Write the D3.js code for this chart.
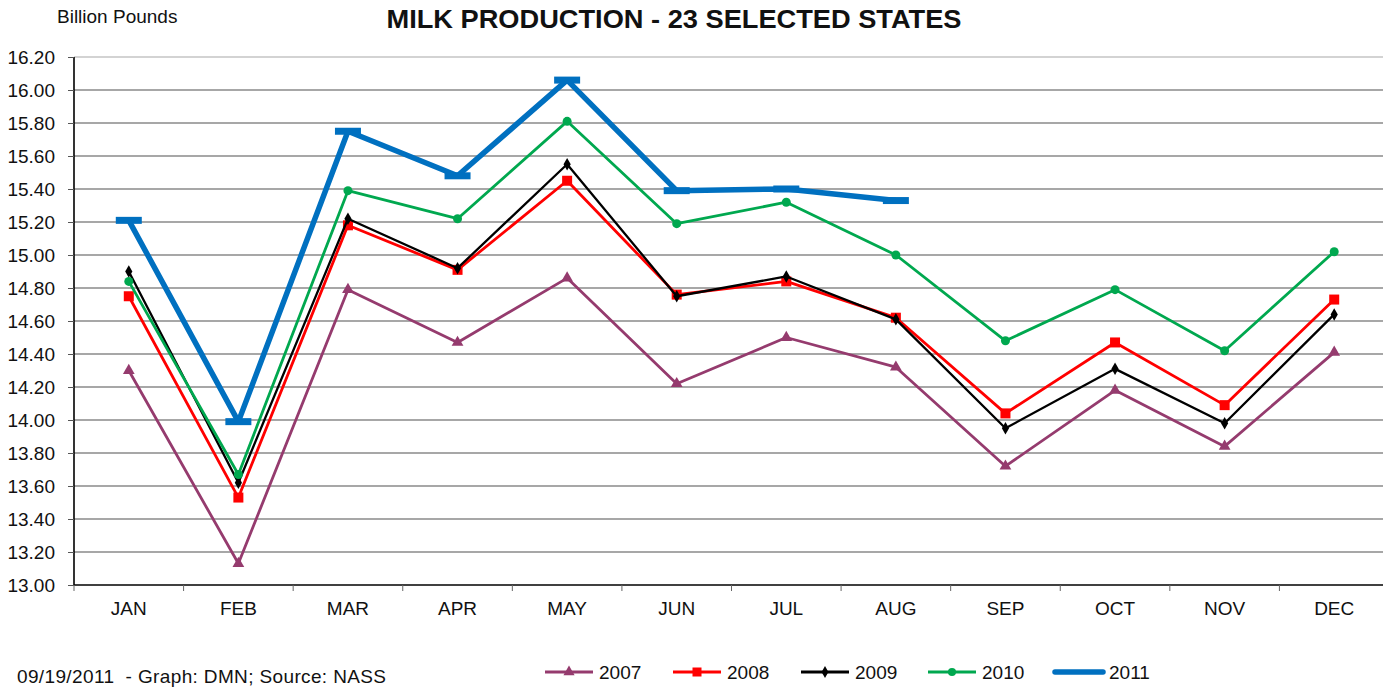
<!DOCTYPE html>
<html><head><meta charset="utf-8">
<script src="https://cdn.jsdelivr.net/npm/d3@7"></script>
<style>body{margin:0;background:#fff;}svg{display:block;font-family:"Liberation Sans",Arial,sans-serif;}</style>
</head><body>
<svg id="c" width="1383" height="691"></svg>
<script>
const months = ["JAN","FEB","MAR","APR","MAY","JUN","JUL","AUG","SEP","OCT","NOV","DEC"];
const yTicks = [13.0,13.2,13.4,13.6,13.8,14.0,14.2,14.4,14.6,14.8,15.0,15.2,15.4,15.6,15.8,16.0,16.2];
const years = ["2007","2008","2009","2010","2011"];
const v2007 = [14.30,13.13,14.79,14.47,14.86,14.22,14.50,14.32,13.72,14.18,13.84,14.41];
const v2008 = [14.75,13.53,15.18,14.91,15.45,14.76,14.84,14.62,14.04,14.47,14.09,14.73];
const v2009 = [14.90,13.62,15.22,14.92,15.55,14.75,14.87,14.61,13.95,14.31,13.98,14.64];
const v2010 = [14.84,13.67,15.39,15.22,15.81,15.19,15.32,15.00,14.48,14.79,14.42,15.02];
const v2011 = [15.21,13.99,15.75,15.48,16.06,15.39,15.40,15.33];
const colors = ["#953B6E","#FF0000","#000000","#00A84F","#0070C0"];
const markers = ["triangle","square","diamond","circle","dash"];
const widths = [2.8,2.8,2.3,2.8,5.5];

const series = years.map((y,i)=>({name:y, values:[v2007,v2008,v2009,v2010,v2011][i], color:colors[i], marker:markers[i], w:widths[i]}));

const FONT = "'Liberation Sans',Arial,sans-serif";
const svg = d3.select("#c");
const L=74, R=1389, T=57, B=585;
const x = d3.scaleBand().domain(months).range([L,R]);
const y = d3.scaleLinear().domain([13,16.2]).range([B,T]);

// gridlines
svg.append("g").selectAll("line").data(yTicks.filter(t=>t>13)).join("line")
  .attr("x1",L).attr("x2",R).attr("y1",d=>y(d)).attr("y2",d=>y(d))
  .attr("stroke",d=>d>16.1?"#c4c4c4":"#8a8a8a").attr("stroke-width",1.6);

// y axis
const ya = svg.append("g").attr("transform",`translate(${L},0)`)
  .call(d3.axisLeft(y).tickValues(yTicks).tickFormat(d3.format(".2f")).tickSize(6).tickPadding(13));
ya.select(".domain").attr("stroke","#000").attr("stroke-width",1.6).attr("d",`M0,${T}V${B}`);
ya.selectAll(".tick line").attr("stroke","#555");
ya.selectAll("text").attr("font-size",19).attr("fill","#111").attr("font-family",FONT);

// x axis
const xa = svg.append("g").attr("transform",`translate(0,${B})`)
  .call(d3.axisBottom(x).tickSize(0).tickPadding(17));
xa.select(".domain").attr("stroke","#000").attr("stroke-width",1.6).attr("d",`M${L},0H${R}`);
xa.selectAll("text").attr("font-size",19).attr("fill","#111").attr("font-family",FONT);
svg.append("g").selectAll("line").data(months).join("line")
  .attr("x1",d=>x(d)).attr("x2",d=>x(d)).attr("y1",B).attr("y2",B+6).attr("stroke","#666");

const cx = d=>x(d)+x.bandwidth()/2;
const line = d3.line().x((d,i)=>cx(months[i])).y(d=>y(d));

function drawMarker(g, type, color, px, py, scale){
  const s = scale||1;
  if(type==="triangle") g.append("path").attr("d",d3.symbol(d3.symbolTriangle,60*s)()).attr("transform",`translate(${px},${py})`).attr("fill",color);
  else if(type==="square") g.append("rect").attr("x",px-5*s).attr("y",py-5*s).attr("width",10*s).attr("height",10*s).attr("fill",color);
  else if(type==="diamond") g.append("path").attr("d",d3.symbol(d3.symbolDiamond,45*s)()).attr("transform",`translate(${px},${py})`).attr("fill",color);
  else if(type==="circle") g.append("circle").attr("cx",px).attr("cy",py).attr("r",4.5*s).attr("fill",color);
  else if(type==="dash") g.append("rect").attr("x",px-13).attr("y",py-3.5).attr("width",26).attr("height",7).attr("fill",color);
}

series.forEach(s=>{
  const g = svg.append("g");
  g.append("path").datum(s.values).attr("d",line).attr("fill","none").attr("stroke",s.color).attr("stroke-width",s.w).attr("stroke-linejoin","round");
  s.values.forEach((v,i)=>drawMarker(g,s.marker,s.color,cx(months[i]),y(v)));
});

// title
svg.append("text").attr("x",674).attr("y",28).attr("text-anchor","middle").attr("font-size",25).attr("font-weight","bold").attr("fill","#111")
  .attr("textLength",575).attr("lengthAdjust","spacingAndGlyphs").text("MILK PRODUCTION - 23 SELECTED STATES");
svg.append("text").attr("x",57).attr("y",23).attr("font-size",19).attr("fill","#111").text("Billion Pounds");
svg.append("text").attr("x",17).attr("y",683).attr("font-size",19).attr("fill","#111")
  .attr("textLength",369).attr("lengthAdjust","spacing").style("white-space","pre").text("09/19/2011  - Graph: DMN; Source: NASS");

// legend
const legX = [545,673,801,928,1055];
series.forEach((s,i)=>{
  const g = svg.append("g");
  const x0 = legX[i], yy = 672;
  g.append("line").attr("x1",x0).attr("x2",x0+48).attr("y1",yy).attr("y2",yy).attr("stroke",s.color).attr("stroke-width",s.marker==="dash"?5.5:2.8).attr("stroke-linecap",s.marker==="dash"?"round":"butt");
  if(s.marker!=="dash") drawMarker(g,s.marker,s.color,x0+24,yy,0.9);
  g.append("text").attr("x",x0+54).attr("y",yy+7).attr("font-size",19).attr("fill","#111").text(s.name);
});
</script>
</body></html>
